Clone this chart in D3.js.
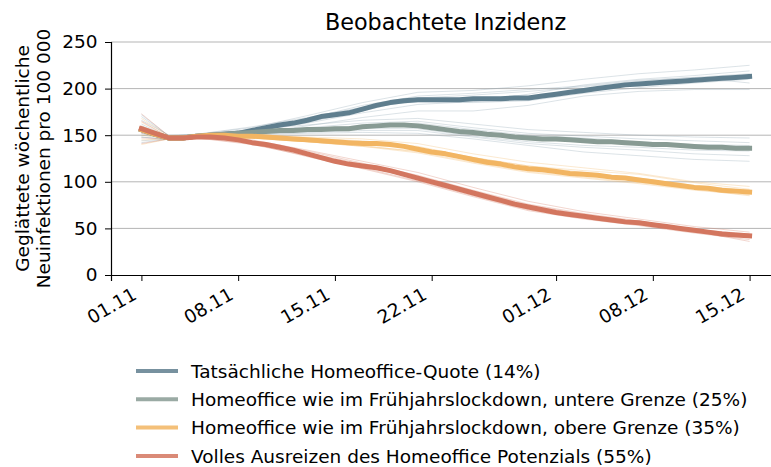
<!DOCTYPE html>
<html>
<head>
<meta charset="utf-8">
<script src="https://cdn.jsdelivr.net/npm/d3@7"></script>
<style>
  body { margin: 0; background: #fff; }
  svg { display: block; font-family: "DejaVu Sans", sans-serif; }
</style>
</head>
<body>
<div id="chart"></div>
<script>
// start date of the series, one value per day
const START = "2020-11-01";

const TICK_DATES = ["2020-11-01", "2020-11-08", "2020-11-15", "2020-11-22", "2020-12-01", "2020-12-08", "2020-12-15"];
const TICK_LABELS = ["01.11", "08.11", "15.11", "22.11", "01.12", "08.12", "15.12"];
const Y_TICKS = [0, 50, 100, 150, 200, 250];

const SCENARIOS = [
  "Tatsächliche Homeoffice-Quote (14%)",
  "Homeoffice wie im Frühjahrslockdown, untere Grenze (25%)",
  "Homeoffice wie im Frühjahrslockdown, obere Grenze (35%)",
  "Volles Ausreizen des Homeoffice Potenzials (55%)"
];

// daily mean curves
const tatsaechlich = [156, 151, 147, 147, 149, 150, 151, 152, 155, 158, 161, 163, 166, 170, 172, 174, 178, 182, 185, 187, 188, 188, 188, 188, 189, 189, 189, 190, 190, 192, 194, 196, 198, 200, 202, 204, 205, 206, 207, 208, 209, 210, 211, 212, 213];
const untere = [156, 151, 147, 147, 149, 150, 151, 152, 153, 154, 155, 155, 156, 156, 157, 157, 159, 160, 161, 161, 160, 158, 156, 154, 153, 151, 150, 148, 147, 146, 146, 145, 144, 143, 143, 142, 141, 140, 140, 139, 138, 137, 137, 136, 136];
const obere = [156, 151, 147, 147, 149, 150, 150, 149, 149, 148, 147, 146, 145, 144, 143, 142, 141, 141, 140, 138, 135, 132, 130, 127, 124, 121, 119, 116, 114, 113, 111, 109, 108, 107, 105, 104, 102, 100, 98, 96, 94, 93, 91, 90, 89];
const volles = [157, 152, 147, 147, 148, 148, 147, 145, 142, 140, 137, 134, 130, 126, 122, 119, 117, 115, 112, 108, 104, 100, 96, 92, 88, 84, 80, 76, 73, 70, 67, 65, 63, 61, 59, 57, 56, 54, 52, 50, 48, 46, 44, 43, 42];

// single simulation runs, sampled on these day offsets
const RUN_DAYS = [0, 2, 4, 8, 12, 16, 20, 24, 28, 32, 36, 40, 44];

const runsTatsaechlich = [
  [172, 149, 151, 158, 171, 185, 196, 198, 203, 210, 216, 220, 225],
  [142, 146, 148, 154, 163, 174, 183, 186, 194, 204, 210, 214, 219],
  [160, 148, 150, 156, 168, 182, 192, 195, 199, 203, 209, 212, 216],
  [148, 145, 148, 152, 160, 169, 176, 176, 182, 192, 197, 199, 199],
  [166, 150, 151, 159, 169, 180, 186, 185, 187, 195, 201, 206, 210],
  [152, 147, 149, 154, 164, 176, 190, 193, 197, 202, 208, 212, 206]
];
const runsUntere = [
  [170, 149, 151, 156, 161, 166, 168, 162, 156, 153, 150, 148, 147],
  [144, 146, 148, 151, 152, 153, 152, 146, 139, 132, 128, 124, 122],
  [162, 148, 150, 155, 158, 163, 165, 158, 152, 149, 146, 144, 142],
  [148, 146, 148, 151, 153, 155, 155, 148, 141, 137, 134, 130, 128],
  [158, 148, 149, 154, 157, 160, 163, 156, 150, 147, 143, 140, 139],
  [150, 147, 148, 152, 155, 157, 157, 149, 143, 139, 137, 134, 133]
];
const runsObere = [
  [168, 149, 150, 151, 148, 146, 141, 130, 121, 115, 109, 100, 95],
  [145, 146, 148, 148, 143, 138, 131, 120, 110, 104, 98, 91, 86],
  [160, 148, 149, 150, 146, 142, 136, 126, 117, 110, 104, 96, 91],
  [150, 147, 148, 147, 143, 139, 132, 121, 111, 105, 99, 92, 85],
  [164, 148, 150, 150, 147, 144, 138, 126, 117, 112, 108, 99, 92],
  [140, 146, 148, 147, 143, 138, 133, 123, 113, 107, 101, 94, 88]
];
const runsVolles = [
  [173, 149, 149, 145, 134, 122, 110, 94, 79, 68, 60, 52, 46],
  [141, 146, 147, 141, 127, 114, 100, 84, 69, 60, 53, 45, 38],
  [165, 148, 149, 143, 131, 119, 106, 90, 75, 65, 57, 49, 43],
  [147, 146, 147, 140, 128, 115, 101, 85, 70, 61, 54, 46, 40],
  [158, 148, 148, 144, 133, 120, 107, 91, 76, 66, 58, 49, 44],
  [152, 147, 148, 142, 130, 117, 103, 87, 72, 62, 55, 47, 36]
];

(function() {
  const WIDTH = 771;
  const HEIGHT = 467;
  const COLORS = ["#5f7e8e", "#889b94", "#f2b562", "#d3765f"];
  const GRID = "#b5b5b5";
  const FONT = "18.5px";

  const margin = { top: 42, left: 111, right: 780, bottom: 192 };
  const plotBottom = HEIGHT - margin.bottom;

  const DAY = 864e5;
  const parse = d3.utcParse("%Y-%m-%d");
  const start = parse(START);
  const end = new Date(+start + (tatsaechlich.length - 1) * DAY);
  const pad = (end - start) * 0.05;

  const x = d3
    .scaleUtc()
    .domain([new Date(+start - pad), new Date(+end + pad)])
    .range([margin.left, margin.right]);
  const y = d3
    .scaleLinear()
    .domain([0, 250])
    .range([plotBottom, margin.top]);

  const svg = d3
    .select("#chart")
    .append("svg")
    .attr("width", WIDTH)
    .attr("height", HEIGHT);

  // gridlines
  svg
    .append("g")
    .selectAll("line")
    .data(Y_TICKS.filter(d => d > 0))
    .enter()
    .append("line")
    .attr("x1", margin.left)
    .attr("x2", WIDTH)
    .attr("y1", d => y(d))
    .attr("y2", d => y(d))
    .attr("stroke", GRID)
    .attr("stroke-width", 1);

  const line = d3
    .line()
    .x(d => x(d.date))
    .y(d => y(d.value));

  const toDaily = arr =>
    arr.map((v, i) => ({ date: new Date(+start + i * DAY), value: v }));
  const toRun = arr =>
    arr.map((v, i) => ({ date: new Date(+start + RUN_DAYS[i] * DAY), value: v }));

  const means = [tatsaechlich, untere, obere, volles];
  const runs = [runsTatsaechlich, runsUntere, runsObere, runsVolles];

  const runG = svg.append("g").attr("fill", "none");
  runs.forEach((set, k) => {
    runG
      .selectAll(null)
      .data(set)
      .enter()
      .append("path")
      .attr("d", d => line(toRun(d)))
      .attr("stroke", k < 2 ? "#8aa3b1" : COLORS[k])
      .attr("stroke-opacity", 0.3)
      .attr("stroke-width", 1);
  });

  svg
    .append("g")
    .attr("fill", "none")
    .selectAll("path")
    .data(means)
    .enter()
    .append("path")
    .attr("d", d => line(toDaily(d)))
    .attr("stroke", (d, i) => COLORS[i])
    .attr("stroke-width", 5)
    .attr("stroke-linejoin", "round")
    .attr("stroke-linecap", "square");

  // axes
  const yAxis = svg
    .append("g")
    .attr("transform", `translate(${margin.left},0)`)
    .call(d3.axisLeft(y).tickValues(Y_TICKS).tickSize(6).tickPadding(7.5));
  yAxis.select(".domain").attr("stroke", "#000").attr("stroke-width", 1.2);
  yAxis
    .selectAll("text")
    .style("font-size", FONT)
    .style("font-family", "DejaVu Sans")
    .attr("fill", "#000");

  const xAxis = svg
    .append("g")
    .attr("transform", `translate(0,${plotBottom})`)
    .call(
      d3
        .axisBottom(x)
        .tickValues(TICK_DATES.map(parse))
        .tickFormat((d, i) => TICK_LABELS[i])
        .tickSize(6)
    );
  xAxis.select(".domain").attr("stroke", "#000").attr("stroke-width", 1.2);
  xAxis
    .selectAll("text")
    .attr("y", 0)
    .attr("dy", 0)
    .attr("transform", "translate(-4,23) rotate(-30)")
    .style("text-anchor", "end")
    .style("font-size", FONT)
    .style("font-family", "DejaVu Sans")
    .attr("fill", "#000");

  // title and y label
  svg
    .append("text")
    .attr("x", (margin.left + margin.right) / 2)
    .attr("y", 30)
    .attr("text-anchor", "middle")
    .style("font-size", "22.3px")
    .text("Beobachtete Inzidenz");

  const yLabel = svg
    .append("text")
    .attr("transform", `translate(0,${(margin.top + plotBottom) / 2}) rotate(-90)`)
    .attr("text-anchor", "middle")
    .style("font-size", FONT);
  yLabel.append("tspan").attr("x", 0).attr("y", 29).text("Geglättete wöchentliche");
  yLabel.append("tspan").attr("x", 0).attr("y", 50).text("Neuinfektionen pro 100 000");

  // legend
  const legend = svg
    .append("g")
    .selectAll("g")
    .data(SCENARIOS)
    .enter()
    .append("g")
    .attr("transform", (d, i) => `translate(136,${371 + i * 28.3})`);
  legend
    .append("line")
    .attr("x1", 0)
    .attr("x2", 42)
    .attr("stroke", (d, i) => COLORS[i])
    .attr("stroke-opacity", 0.85)
    .attr("stroke-width", 4);
  legend
    .append("text")
    .attr("x", 55)
    .attr("dy", "0.36em")
    .style("font-size", FONT)
    .text(d => d);
})();
</script>
</body>
</html>
